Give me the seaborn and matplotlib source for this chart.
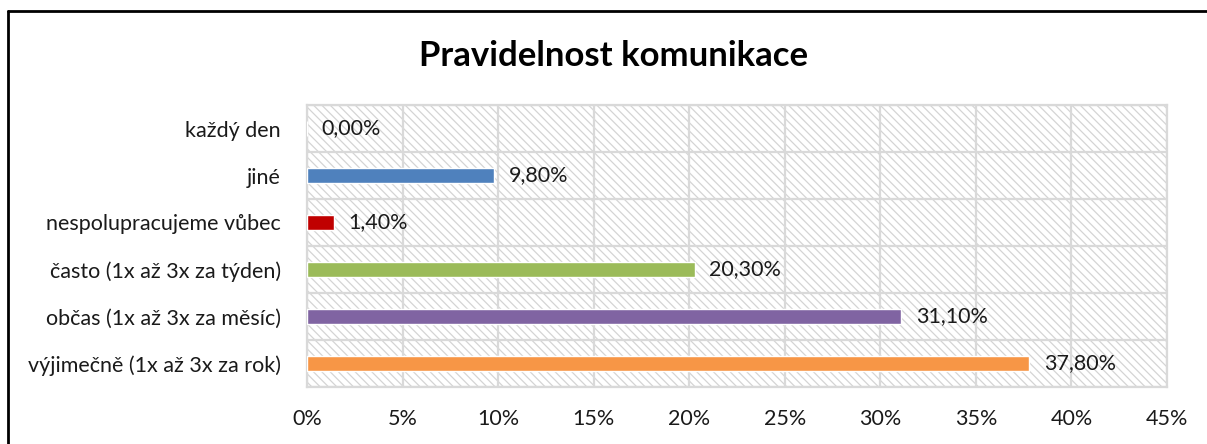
import matplotlib
matplotlib.use("Agg")
import matplotlib.pyplot as plt
import seaborn as sns
import numpy as np
from matplotlib.lines import Line2D
from matplotlib.ticker import FuncFormatter

sns.set_style("white")
plt.rcParams['font.family'] = ['Lato', 'DejaVu Sans']
plt.rcParams['hatch.color'] = '#d4d4d4'
plt.rcParams['hatch.linewidth'] = 0.9

# --- data (top to bottom) ---
categories = ['každý den', 'jiné', 'nespolupracujeme vůbec',
              'často (1x až 3x za týden)', 'občas (1x až 3x za měsíc)',
              'výjimečně (1x až 3x za rok)']
values = [0.0, 9.8, 1.4, 20.3, 31.1, 37.8]
colors = ['#4F81BD', '#4F81BD', '#C00000', '#9BBB59', '#8064A2', '#F79646']
x_ticks = [0, 5, 10, 15, 20, 25, 30, 35, 40, 45]

fig = plt.figure(figsize=(12.07, 4.44), dpi=100)
ax = fig.add_axes([0.2544, 0.1284, 0.7125, 0.6351])

# hatched plot area
ax.patch.set_facecolor('white')
ax.patch.set_hatch('\\\\\\\\')
ax.patch.set_edgecolor('#d4d4d4')

sns.barplot(x=values, y=categories, hue=categories, palette=colors,
            legend=False, width=0.3, saturation=1, ax=ax, zorder=3)

ax.set_xlim(0, 45)
ax.set_ylim(5.5, -0.5)
ax.set_xticks(x_ticks)
ax.xaxis.set_major_formatter(FuncFormatter(lambda v, p: f'{v:.0f}%'))
ax.set_yticks(range(len(categories)))
ax.set_yticks(np.arange(-0.5, len(categories), 1), minor=True)
ax.tick_params(axis='both', which='both', length=0, labelsize=15.5, colors='#1a1a1a')
ax.tick_params(axis='y', pad=19)
ax.tick_params(axis='x', pad=16)
ax.grid(axis='x', which='major', color='#d9d9d9', linewidth=1.6, zorder=1)
ax.grid(axis='y', which='minor', color='#d9d9d9', linewidth=1.6, zorder=1)
ax.set_axisbelow(True)
for s in ax.spines.values():
    s.set_color('#d9d9d9')
    s.set_linewidth(1.6)
ax.set_xlabel('')
ax.set_ylabel('')

# value labels
for i, v in enumerate(values):
    ax.text(v + 0.75, i, f'{v:.2f}%'.replace('.', ','), va='center', ha='left',
            fontsize=15.5, color='#1a1a1a', zorder=4)

fig.text(0.508, 0.875, 'Pravidelnost komunikace', ha='center', va='center',
         fontsize=25, fontweight='bold', color='black')

# chart border (partly cut off in the reference)
fig.add_artist(Line2D([8 / 1207, 8 / 1207], [0, 1 - 11 / 444], color='black',
                      linewidth=2, transform=fig.transFigure))
fig.add_artist(Line2D([8 / 1207, 1], [1 - 11 / 444, 1 - 11 / 444], color='black',
                      linewidth=2, transform=fig.transFigure))

fig.savefig('out.png', dpi=100)
